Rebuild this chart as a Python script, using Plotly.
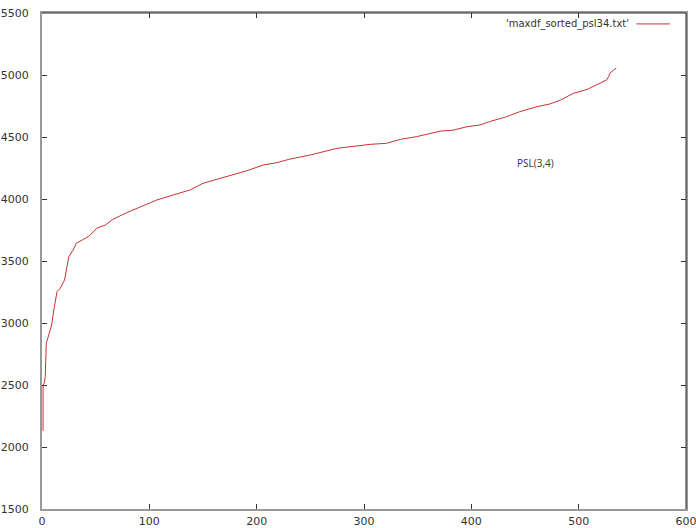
import plotly.graph_objects as go

# Values (sorted maxdf values, PSL(3,4))
idx = [1, 1, 1, 2, 3, 4, 6, 9, 11, 14, 17, 21, 25, 29, 32, 38, 43, 45, 51, 59, 66,
       79, 94, 107, 122, 138, 150, 163, 175, 191, 206, 219, 230, 250, 275, 306,
       321, 334, 349, 371, 383, 396, 408, 417, 433, 445, 461, 473, 483, 495,
       508, 517, 526, 528, 529, 535]
vals = [2130, 2365, 2500, 2514, 2567, 2836, 2903, 2984, 3105, 3253, 3280, 3347,
        3535, 3589, 3643, 3670, 3696, 3710, 3764, 3790, 3836, 3890, 3944, 3992,
        4032, 4073, 4127, 4159, 4194, 4228, 4274, 4293, 4320, 4355, 4409, 4441,
        4449, 4481, 4503, 4547, 4555, 4583, 4597, 4624, 4664, 4704, 4744, 4766,
        4798, 4852, 4884, 4919, 4960, 4987, 5014, 5057]

x_ticks = [0, 100, 200, 300, 400, 500, 600]
y_ticks = [1500, 2000, 2500, 3000, 3500, 4000, 4500, 5000, 5500]
series_name = "'maxdf_sorted_psl34.txt'"
note_text = "PSL(3,4)"

line_color = "#c83232"

fig = go.Figure()
fig.add_trace(go.Scatter(x=idx, y=vals, mode="lines",
                         line=dict(color=line_color, width=1),
                         name=series_name, showlegend=False))

axis_common = dict(showgrid=False, zeroline=False, showline=True, automargin=False,
                   linecolor="#999999", linewidth=2, mirror="ticks",
                   ticks="inside", ticklen=5, tickcolor="#333333", tickwidth=1,
                   ticklabeloverflow="allow",
                   tickfont=dict(family="DejaVu Sans", size=11, color="#333333"))

fig.update_layout(
    width=696, height=528,
    margin=dict(l=42, r=10, t=13, b=19),
    paper_bgcolor="white", plot_bgcolor="white",
    xaxis=dict(range=[0, 600], tickvals=x_ticks, ticklabelstandoff=1, **axis_common),
    yaxis=dict(range=[1500, 5500], tickvals=y_ticks, ticklabelstandoff=9, **axis_common),
    showlegend=False,
)

# top and right border (thin dark)
fig.add_shape(type="line", xref="paper", yref="paper", x0=0, x1=1, y0=1, y1=1,
              line=dict(color="#333333", width=1))
fig.add_shape(type="line", xref="paper", yref="paper", x0=1, x1=1, y0=0, y1=1,
              line=dict(color="#333333", width=1))

# gnuplot-style key: text then line sample
fig.add_annotation(xref="paper", yref="paper", x=0.914, y=0.978, text=series_name,
                   showarrow=False, xanchor="right", yanchor="middle",
                   font=dict(family="DejaVu Sans", size=10, color="#333333"))
fig.add_shape(type="line", xref="paper", yref="paper", x0=0.923, x1=0.975,
              y0=0.978, y1=0.978, line=dict(color=line_color, width=1))

fig.add_annotation(x=460, y=4290, text=note_text, showarrow=False,
                   xanchor="center", yanchor="middle",
                   font=dict(family="Open Sans", size=10, color="#333333"))

fig.write_html("out.html", config={"displayModeBar": False},
               post_script="document.body.style.margin='0px';document.body.style.overflow='hidden';")
